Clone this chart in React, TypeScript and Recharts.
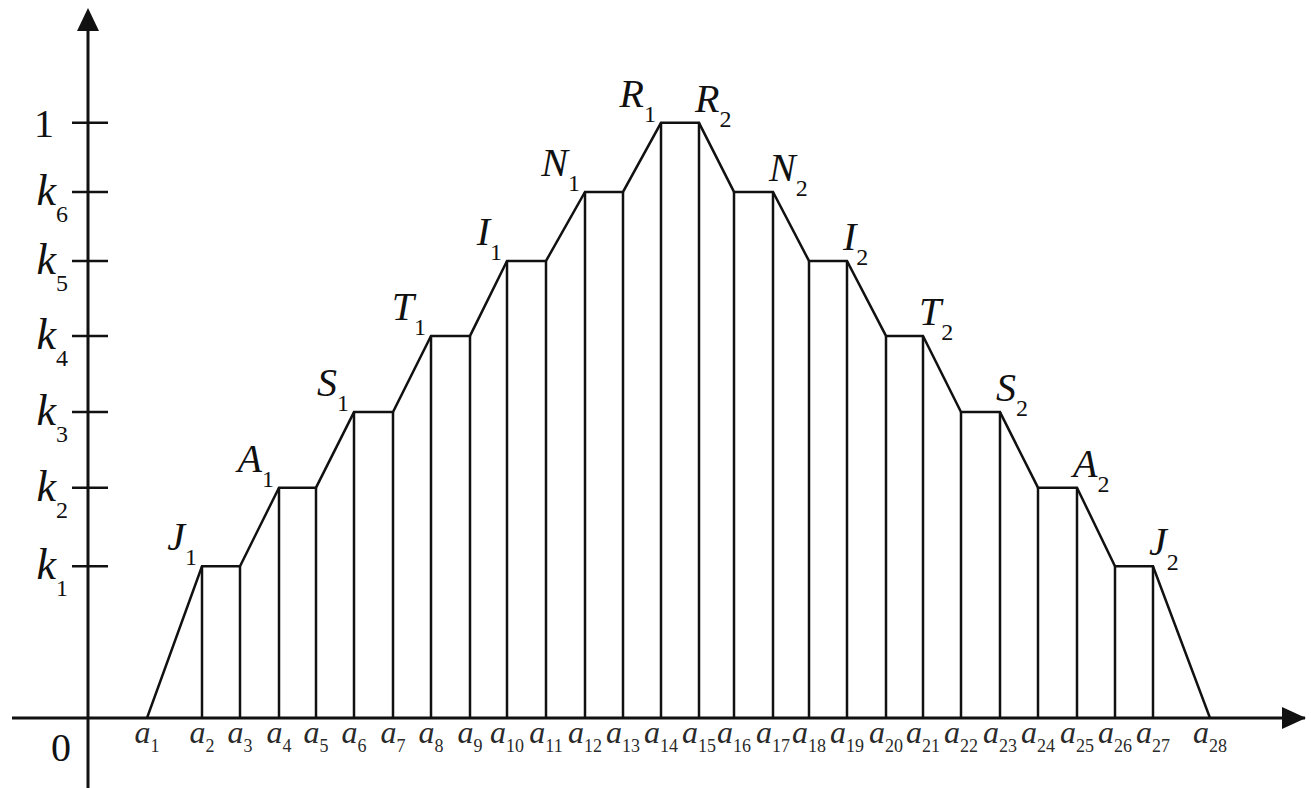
import { LineChart, Line, XAxis, YAxis, ReferenceLine, ReferenceDot } from "recharts";

const K1 = 0.255;
const K2 = 0.387;
const K3 = 0.514;
const K4 = 0.642;
const K5 = 0.768;
const K6 = 0.884;

// a1..a28, distance from the origin along the x axis
const aPositions = [
    59, 114, 152, 191, 228, 266, 305, 343, 382, 419, 458, 497, 535, 573,
    611, 646, 685, 721, 759, 798, 835, 873, 912, 950, 989, 1027, 1065, 1122
];
const membership = [
    0, K1, K1, K2, K2, K3, K3, K4, K4, K5, K5, K6, K6, 1,
    1, K6, K6, K5, K5, K4, K4, K3, K3, K2, K2, K1, K1, 0
];
const yTickValues = [K1, K2, K3, K4, K5, K6, 1];
const yTickNames = ["k", "k", "k", "k", "k", "k", "1"];
const yTickSubs = ["1", "2", "3", "4", "5", "6", ""];
const cornerLetters = ["J", "A", "S", "T", "I", "N", "R"];
const risingCorners = [1, 3, 5, 7, 9, 11, 13]; // a2, a4 ... a14
const fallingCorners = [26, 24, 22, 20, 18, 16, 14]; // a27, a25 ... a15

const X_MIN = -76;
const X_MAX = 1217;
const Y_MIN = -0.118;
const Y_MAX = 1.193;
const INK = "#111";
const FONT = "'Liberation Serif', 'Times New Roman', serif";

const data = aPositions.map((x, i) => ({ x, mu: membership[i] }));

const ATick = (props: any) => {
    const { x, y, payload } = props;
    const idx = aPositions.indexOf(payload.value);
    return (
        <text x={x} y={y + 17} textAnchor="middle" fill="#2a2a2a" fontFamily={FONT}>
            <tspan fontSize={32} fontStyle="italic">a</tspan>
            <tspan fontSize={18} dy={9}>{idx + 1}</tspan>
        </text>
    );
};

export default function App() {
    return (
        <div style={{ position: "absolute", left: 0, top: 0, width: 1311, height: 788, background: "#fff" }}>
            <LineChart
                width={1311}
                height={788}
                data={data}
                margin={{ top: 8, right: 6, bottom: 0, left: 12 }}
            >
                <XAxis
                    type="number"
                    dataKey="x"
                    domain={[X_MIN, X_MAX]}
                    ticks={aPositions}
                    interval={0}
                    allowDataOverflow
                    tickLine={false}
                    axisLine={{ stroke: INK, strokeWidth: 3 }}
                    tick={<ATick />}
                    height={70}
                />
                <YAxis type="number" domain={[0, Y_MAX]} allowDataOverflow hide />

                {/* y axis, runs below the x axis to the bottom edge */}
                <ReferenceLine
                    segment={[{ x: 0, y: Y_MIN }, { x: 0, y: Y_MAX - 0.02 }]}
                    stroke={INK}
                    strokeWidth={3}
                    ifOverflow="visible"
                />
                <ReferenceDot
                    x={0}
                    y={Y_MAX}
                    r={1}
                    ifOverflow="visible"
                    shape={(p: any) => (
                        <path d={`M${p.cx},${p.cy} L${p.cx - 11},${p.cy + 23} L${p.cx + 11},${p.cy + 23} Z`} fill={INK} />
                    )}
                />
                <ReferenceDot
                    x={X_MAX}
                    y={0}
                    r={1}
                    ifOverflow="visible"
                    shape={(p: any) => (
                        <path d={`M${p.cx + 1},${p.cy} L${p.cx - 23},${p.cy - 11} L${p.cx - 23},${p.cy + 11} Z`} fill={INK} />
                    )}
                />
                <ReferenceDot
                    x={0}
                    y={0}
                    r={1}
                    ifOverflow="visible"
                    shape={(p: any) => (
                        <text x={p.cx - 27} y={p.cy + 43} textAnchor="middle" fontSize={40} fontFamily={FONT} fill={INK}>0</text>
                    )}
                />

                {/* y ticks */}
                {yTickValues.map((v, i) => (
                    <ReferenceLine
                        key={`yt${i}`}
                        segment={[{ x: -16, y: v }, { x: 20, y: v }]}
                        stroke={INK}
                        strokeWidth={2.5}
                    />
                ))}
                {yTickValues.map((v, i) => (
                    <ReferenceDot
                        key={`yl${i}`}
                        x={0}
                        y={v}
                        r={1}
                        ifOverflow="visible"
                        shape={(p: any) =>
                            yTickSubs[i] ? (
                                <text x={p.cx - 20} y={p.cy + 13} textAnchor="end" fontFamily={FONT} fill={INK}>
                                    <tspan fontSize={44} fontStyle="italic">{yTickNames[i]}</tspan>
                                    <tspan fontSize={24} dy={17}>{yTickSubs[i]}</tspan>
                                </text>
                            ) : (
                                <text x={p.cx - 34} y={p.cy + 14} textAnchor="end" fontSize={40} fontFamily={FONT} fill={INK}>
                                    {yTickNames[i]}
                                </text>
                            )
                        }
                    />
                ))}

                {/* vertical lines under every corner */}
                {aPositions.slice(1, -1).map((x, i) => (
                    <ReferenceLine
                        key={`v${i}`}
                        segment={[{ x, y: 0 }, { x, y: membership[i + 1] }]}
                        stroke={INK}
                        strokeWidth={2.5}
                    />
                ))}

                <Line
                    type="linear"
                    dataKey="mu"
                    stroke={INK}
                    strokeWidth={2.5}
                    dot={false}
                    activeDot={false}
                    isAnimationActive={false}
                />

                {risingCorners.map((c, i) => (
                    <ReferenceDot
                        key={`r${i}`}
                        x={aPositions[c]}
                        y={membership[c]}
                        r={1}
                        ifOverflow="visible"
                        shape={(p: any) => (
                            <text x={p.cx - 5} y={p.cy - 16} textAnchor="end" fontFamily={FONT} fill={INK}>
                                <tspan fontSize={40} fontStyle="italic">{cornerLetters[i]}</tspan>
                                <tspan fontSize={24} dy={15}>1</tspan>
                            </text>
                        )}
                    />
                ))}
                {fallingCorners.map((c, i) => (
                    <ReferenceDot
                        key={`f${i}`}
                        x={aPositions[c]}
                        y={membership[c]}
                        r={1}
                        ifOverflow="visible"
                        shape={(p: any) => (
                            <text x={p.cx - 4} y={p.cy - 11} textAnchor="start" fontFamily={FONT} fill={INK}>
                                <tspan fontSize={40} fontStyle="italic">{cornerLetters[i]}</tspan>
                                <tspan fontSize={24} dy={15}>2</tspan>
                            </text>
                        )}
                    />
                ))}
            </LineChart>
        </div>
    );
}
